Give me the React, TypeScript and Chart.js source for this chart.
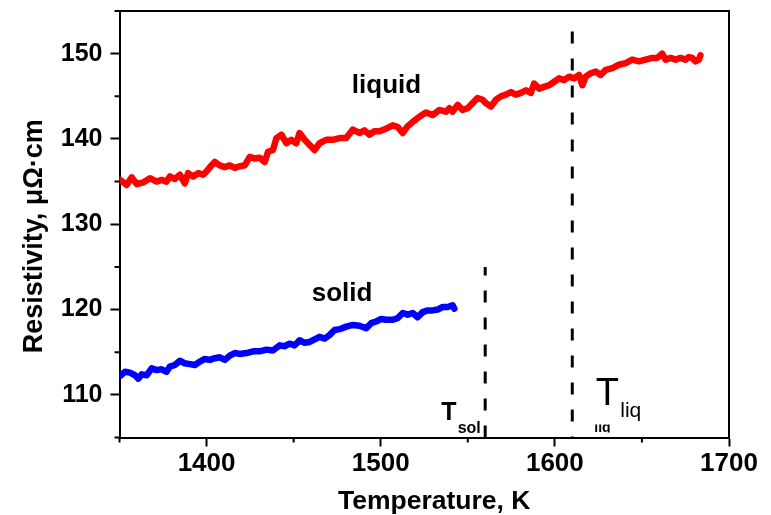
import { useEffect, useRef } from "react";
import { Chart, registerables } from "chart.js";

Chart.register(...registerables);

// ---------- data ----------
const liquidT = [
  1350.3, 1354.1, 1357.0, 1359.9, 1363.6, 1367.5, 1371.3, 1374.2, 1377.0, 1378.9,
  1381.8, 1384.7, 1387.5, 1389.4, 1392.3, 1395.2, 1398.0, 1400.0, 1402.8, 1404.7,
  1407.6, 1410.5, 1413.3, 1416.2, 1419.1, 1421.9, 1424.8, 1427.7, 1430.5, 1433.4,
  1435.3, 1438.1, 1440.1, 1443.0, 1445.8, 1448.7, 1451.5, 1453.4, 1456.3, 1459.2,
  1462.0, 1464.9, 1468.7, 1472.5, 1476.4, 1480.2, 1484.0, 1487.8, 1490.7, 1493.6,
  1496.4, 1499.3, 1503.1, 1506.9, 1509.8, 1512.6, 1515.5, 1518.4, 1522.2, 1526.0,
  1529.8, 1533.7, 1537.5, 1539.4, 1541.3, 1544.2, 1547.0, 1549.9, 1552.8, 1555.6,
  1558.5, 1560.4, 1563.3, 1566.2, 1569.0, 1571.9, 1574.8, 1577.6, 1580.5, 1583.4,
  1586.2, 1588.1, 1591.0, 1593.8, 1596.7, 1599.6, 1602.4, 1605.3, 1608.2, 1611.1,
  1613.9, 1615.8, 1617.7, 1620.6, 1623.5, 1626.3, 1629.2, 1633.0, 1636.8, 1640.7,
  1644.4, 1648.3, 1652.1, 1655.9, 1658.8, 1661.6, 1663.6, 1666.4, 1669.3, 1672.2,
  1675.0, 1676.9, 1678.8, 1680.8, 1682.7, 1683.6,
];
const liquidR = [
  135.2, 134.6, 135.5, 134.7, 134.9, 135.4, 135.0, 135.2, 135.0, 135.6,
  135.3, 135.8, 134.8, 136.0, 135.6, 136.0, 135.8, 136.2, 136.9, 137.3,
  136.9, 136.7, 136.9, 136.6, 136.8, 136.9, 137.9, 137.7, 137.8, 137.3,
  138.5, 138.7, 140.1, 140.5, 139.5, 139.9, 139.5, 140.7, 139.9, 139.3,
  138.7, 139.5, 139.9, 139.9, 140.1, 140.1, 141.1, 140.7, 141.0, 140.5,
  140.9, 140.9, 141.2, 141.6, 141.4, 140.7, 141.5, 142.0, 142.6, 143.1,
  142.8, 143.4, 143.2, 143.6, 143.2, 144.0, 143.4, 143.6, 144.2, 144.8,
  144.6, 144.2, 143.8, 144.6, 145.0, 145.2, 145.5, 145.2, 145.4, 145.7,
  145.4, 146.5, 145.9, 146.1, 146.3, 146.7, 147.1, 146.9, 147.3, 147.1,
  147.5, 146.3, 147.3, 147.7, 147.9, 147.5, 148.1, 148.3, 148.7, 148.9,
  149.3, 149.1, 149.3, 149.5, 149.5, 150.0, 149.3, 149.5, 149.3, 149.5,
  149.3, 149.6, 149.5, 149.1, 149.3, 149.8,
];

const solidT = [
  1350.3, 1353.2, 1356.0, 1358.9, 1360.8, 1362.7, 1365.6, 1368.5, 1371.3, 1374.2,
  1377.0, 1378.9, 1381.8, 1384.7, 1387.5, 1390.4, 1393.3, 1396.1, 1399.0, 1401.9,
  1404.7, 1407.6, 1410.5, 1413.3, 1416.2, 1419.1, 1422.9, 1426.7, 1430.5, 1434.4,
  1438.1, 1442.0, 1444.8, 1447.7, 1450.6, 1453.4, 1456.3, 1459.2, 1462.0, 1464.9,
  1467.8, 1470.6, 1473.5, 1476.4, 1480.2, 1484.0, 1487.8, 1491.7, 1494.5, 1497.4,
  1500.3, 1503.1, 1506.9, 1509.8, 1512.7, 1515.5, 1518.4, 1521.2, 1524.1, 1527.0,
  1529.8, 1532.7, 1535.6, 1538.4, 1541.3, 1542.3,
];
const solidR = [
  112.2, 112.7, 112.6, 112.3, 111.9, 112.4, 112.3, 113.1, 112.9, 113.0,
  112.7, 113.3, 113.5, 114.0, 113.7, 113.6, 113.5, 113.9, 114.2, 114.1,
  114.3, 114.4, 114.1, 114.6, 114.9, 114.8, 114.9, 115.1, 115.1, 115.3,
  115.2, 115.8, 115.7, 116.0, 115.8, 116.4, 116.1, 116.2, 116.5, 116.8,
  116.6, 117.0, 117.6, 117.7, 118.0, 118.2, 118.1, 117.8, 118.4, 118.6,
  118.9, 118.8, 118.8, 119.0, 119.6, 119.4, 119.6, 119.1, 119.7, 119.9,
  119.9, 120.0, 120.3, 120.3, 120.5, 120.1,
];

// transition temperatures and the extent of their dashed markers
const tSol = 1560;
const tSolRange = [105, 125];
const tLiq = 1610;
const tLiqRange = [152.6, 105];

// axis settings
const xMin = 1350;
const xMax = 1700;
const xTickLabels = [1400, 1500, 1600, 1700];
const xMinorTicks = [1350, 1450, 1550, 1650];
const yMin = 105;
const yMax = 155;
const yTickLabels = [110, 120, 130, 140, 150];
const yMinorTicks = [105, 115, 125, 135, 145, 155];

const xTitle = "Temperature, K";
const yTitle = "Resistivity, μΩ·cm";

// in-plot labels (data coordinates)
const labelText = ["liquid", "solid"];
const labelX = [1503.3, 1477.8];
const labelY = [145.35, 121.04];

const FONT = "'Liberation Sans', Arial, sans-serif";

const decorPlugin = {
  id: "decor",
  afterDatasetsDraw(chart: any) {
    const { ctx, chartArea: ca, scales } = chart;
    const xs = scales.x;
    const ys = scales.y;
    ctx.save();
    // frame (top and right)
    ctx.strokeStyle = "#000";
    ctx.lineWidth = 2;
    ctx.beginPath();
    ctx.moveTo(ca.left, ca.top);
    ctx.lineTo(ca.right, ca.top);
    ctx.lineTo(ca.right, ca.bottom);
    ctx.stroke();

    // minor ticks
    ctx.lineWidth = 2;
    ctx.beginPath();
    for (const v of xMinorTicks) {
      const px = xs.getPixelForValue(v);
      ctx.moveTo(px, ca.bottom);
      ctx.lineTo(px, ca.bottom + 5);
    }
    for (const v of yMinorTicks) {
      const py = ys.getPixelForValue(v);
      ctx.moveTo(ca.left, py);
      ctx.lineTo(ca.left - 5, py);
    }
    ctx.stroke();

    // labels
    ctx.fillStyle = "#000";
    ctx.textBaseline = "alphabetic";
    ctx.textAlign = "center";
    ctx.font = `bold 26px ${FONT}`;
    for (let i = 0; i < labelText.length; i++) {
      ctx.fillText(labelText[i], xs.getPixelForValue(labelX[i]), ys.getPixelForValue(labelY[i]));
    }

    // T_sol
    ctx.textAlign = "left";
    const solX = xs.getPixelForValue(tSol);
    ctx.font = `bold 25px ${FONT}`;
    ctx.fillText("T", solX - 44, ca.bottom - 17.5);
    ctx.font = `bold 16px ${FONT}`;
    ctx.fillText("sol", solX - 27.5, ca.bottom - 5);

    // T_liq
    const liqX = xs.getPixelForValue(tLiq);
    ctx.font = `38px ${FONT}`;
    ctx.fillText("T", liqX + 23.5, ca.bottom - 32.5);
    ctx.font = `21px ${FONT}`;
    ctx.fillText("liq", liqX + 48, ca.bottom - 20.5);
    // clipped remnant of subscript
    ctx.save();
    ctx.beginPath();
    ctx.rect(liqX + 20, ca.bottom - 13, 24, 8);
    ctx.clip();
    ctx.font = `bold 14px ${FONT}`;
    ctx.fillText("liq", liqX + 22, ca.bottom - 6);
    ctx.restore();

    // axis titles
    ctx.font = `bold 26.5px ${FONT}`;
    ctx.textAlign = "center";
    ctx.textBaseline = "alphabetic";
    ctx.fillText(xTitle, (ca.left + ca.right) / 2 + 10, 509);
    ctx.save();
    ctx.translate(42, (ca.top + ca.bottom) / 2 + 12);
    ctx.rotate(-Math.PI / 2);
    ctx.font = `bold 27px ${FONT}`;
    ctx.fillText(yTitle, 0, 0);
    ctx.restore();

    ctx.restore();
  },
};

export default function App() {
  const canvasRef = useRef<HTMLCanvasElement | null>(null);

  useEffect(() => {
    document.body.style.margin = "0";
    const canvas = canvasRef.current;
    if (!canvas) return;

    const liquidData = liquidT.map((t, i) => ({ x: t, y: liquidR[i] }));
    const solidData = solidT.map((t, i) => ({ x: t, y: solidR[i] }));

    const chart = new Chart(canvas, {
      type: "line",
      data: {
        datasets: [
          {
            label: "liquid",
            data: liquidData,
            borderColor: "#ff0000",
            backgroundColor: "#ff0000",
            borderWidth: 6.5,
            pointRadius: 0,
            tension: 0,
            borderJoinStyle: "round",
            borderCapStyle: "round",
          },
          {
            label: "solid",
            data: solidData,
            borderColor: "#0000ff",
            backgroundColor: "#0000ff",
            borderWidth: 6.5,
            pointRadius: 0,
            tension: 0,
            borderJoinStyle: "round",
            borderCapStyle: "round",
          },
          {
            label: "Tsol",
            data: [
              { x: tSol, y: tSolRange[0] },
              { x: tSol, y: tSolRange[1] },
            ],
            borderColor: "#000",
            borderWidth: 3,
            borderDash: [12, 15],
            pointRadius: 0,
          },
          {
            label: "Tliq",
            data: [
              { x: tLiq, y: tLiqRange[0] },
              { x: tLiq, y: tLiqRange[1] },
            ],
            borderColor: "#000",
            borderWidth: 3,
            borderDash: [12, 15],
            pointRadius: 0,
          },
        ],
      },
      options: {
        animation: false,
        responsive: false,
        maintainAspectRatio: false,
        layout: { padding: { top: 11, right: 42, left: 0, bottom: 0 } },
        plugins: {
          legend: { display: false },
          tooltip: { enabled: false },
        },
        scales: {
          x: {
            type: "linear",
            min: xMin,
            max: xMax,
            afterFit(scale: any) {
              scale.height = 77.5;
              scale.paddingLeft = 0;
              scale.paddingRight = 0;
            },
            afterBuildTicks(scale: any) {
              scale.ticks = xTickLabels.map((v) => ({ value: v }));
            },
            ticks: {
              color: "#000",
              font: { family: FONT, size: 26, weight: "bold" },
              padding: 2,
              maxRotation: 0,
              autoSkip: false,
              callback: (v: any) => String(v),
            },
            grid: {
              drawOnChartArea: false,
              drawTicks: true,
              tickLength: 9,
              tickWidth: 2,
              tickColor: "#000",
            },
            border: { display: true, color: "#000", width: 2 },
          },
          y: {
            type: "linear",
            min: yMin,
            max: yMax,
            afterFit(scale: any) {
              scale.width = 119.5;
              scale.paddingTop = 0;
              scale.paddingBottom = 0;
            },
            afterBuildTicks(scale: any) {
              scale.ticks = yTickLabels.map((v) => ({ value: v }));
            },
            ticks: {
              color: "#000",
              font: { family: FONT, size: 25, weight: "bold" },
              padding: 8,
              autoSkip: false,
              callback: (v: any) => String(v),
            },
            grid: {
              drawOnChartArea: false,
              drawTicks: true,
              tickLength: 9,
              tickWidth: 2,
              tickColor: "#000",
            },
            border: { display: true, color: "#000", width: 2 },
          },
        },
      },
      plugins: [decorPlugin],
    });

    return () => {
      chart.destroy();
    };
  }, []);

  return (
    <div style={{ width: 771, height: 515, background: "#fff" }}>
      <canvas ref={canvasRef} width={771} height={515} style={{ display: "block" }} />
    </div>
  );
}
